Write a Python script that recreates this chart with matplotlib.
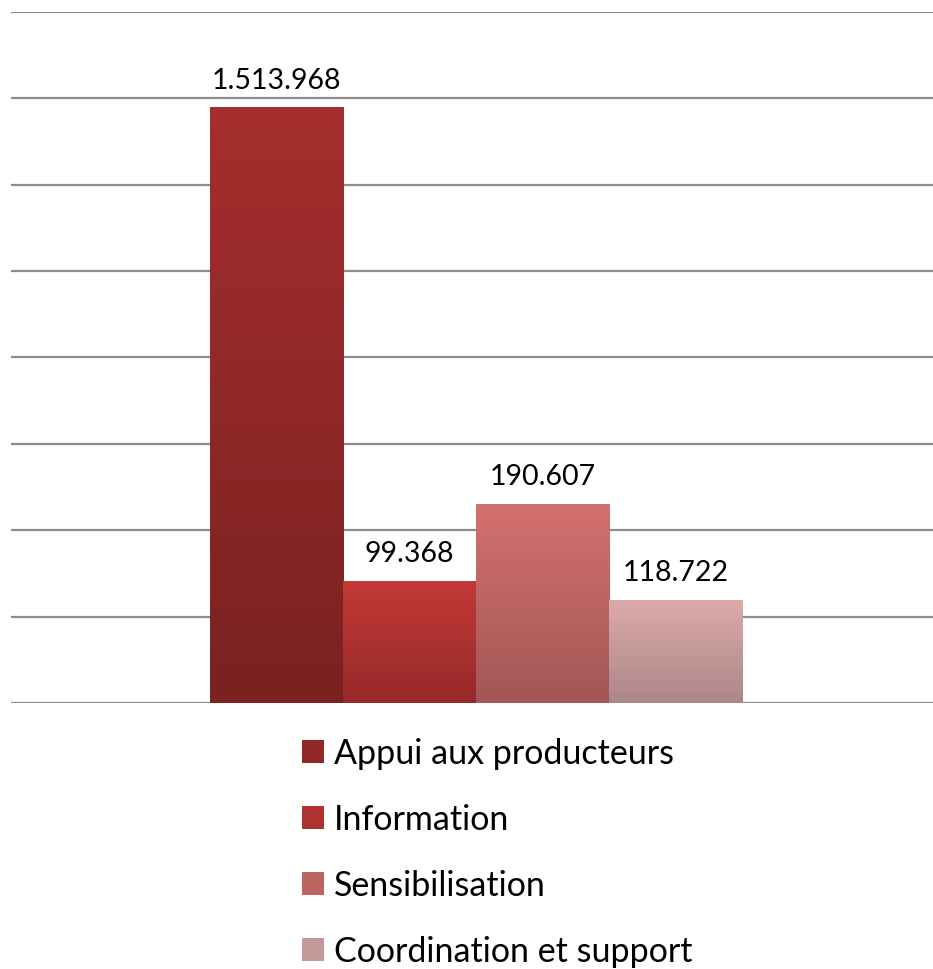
import numpy as np
import matplotlib.pyplot as plt
from matplotlib.colors import to_rgb
from matplotlib.patches import Rectangle

categories = ['Appui aux producteurs', 'Information', 'Sensibilisation', 'Coordination et support']
value_labels = ['1.513.968', '99.368', '190.607', '118.722']
heights = [6.89, 1.41, 2.30, 1.19]
top_colors = ['#A62E2E', '#C43A37', '#D4716F', '#DDAAAA']
bottom_colors = ['#792220', '#96292A', '#A25655', '#AC8788']

plt.rcParams['font.family'] = ['Lato', 'DejaVu Sans']

fig = plt.figure(figsize=(9.33, 9.69), dpi=100)
ax = fig.add_axes([11 / 933, 1 - 703 / 969, 922 / 933, 691 / 969])

def gradient(top, bottom, n=256):
    t = np.linspace(0, 1, n)[:, None]
    a = np.array(to_rgb(bottom))
    b = np.array(to_rgb(top))
    return (a + (b - a) * t)[:, None, :]

for i, h in enumerate(heights):
    ax.imshow(gradient(top_colors[i], bottom_colors[i]), extent=(i - 0.5, i + 0.5, 0, h),
              origin='lower', aspect='auto', zorder=3, interpolation='bilinear')
    ax.text(i, h + 0.22, value_labels[i], ha='center', va='baseline', fontsize=20.5, color='black', zorder=4)

for y in range(9):
    ax.axhline(y, color='#8c8c8c', lw=1.6, zorder=1)

ax.set_xlim(-1.993, 4.929)
ax.set_ylim(0, 8)
ax.axis('off')

# legend
handles = [Rectangle((0, 0), 1, 1, facecolor=c) for c in
           [np.mean([to_rgb(t), to_rgb(b)], axis=0) for t, b in zip(top_colors, bottom_colors)]]
fig.legend(handles, categories, loc='upper left', bbox_to_anchor=(288 / 933, 1 - 724 / 969),
           frameon=False, fontsize=24.5, handlelength=0.65, handleheight=0.65,
           handletextpad=0.3, labelspacing=1.0, borderaxespad=0)

fig.savefig('out.png', dpi=100)
